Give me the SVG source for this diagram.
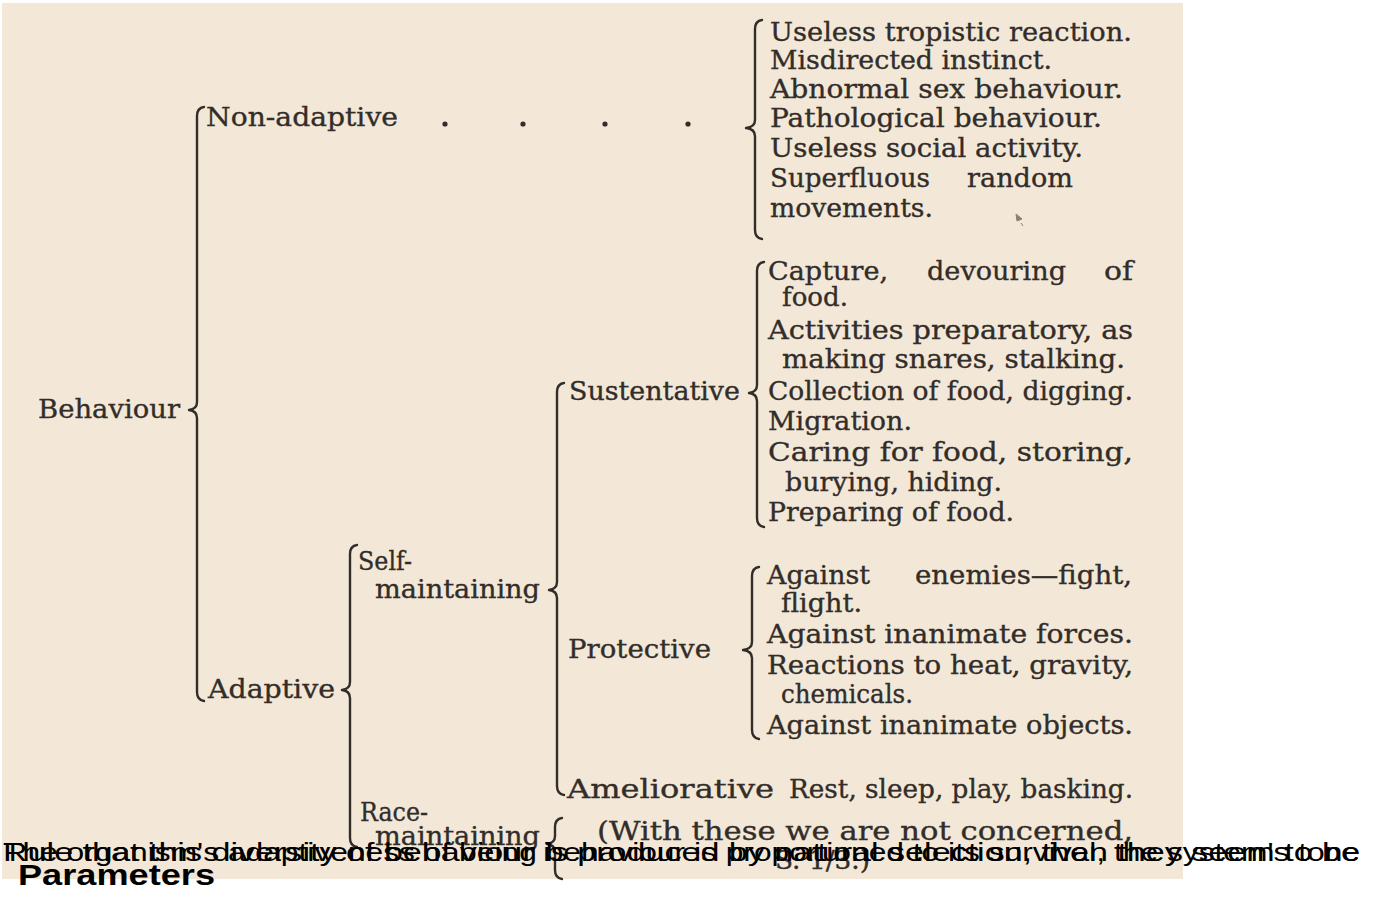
<svg xmlns="http://www.w3.org/2000/svg" width="1375" height="917" viewBox="0 0 1375 917">
<style>
.t{font-family:"DejaVu Serif","Liberation Serif",serif;font-size:26px;fill:#322d29;stroke:#322d29;stroke-width:0.35}
.br{fill:none;stroke:#322d29;stroke-width:2.4;stroke-linecap:round;stroke-linejoin:round}
.dot{fill:#322d29}
.cap{font-family:"Liberation Sans",Arial,sans-serif;font-size:25px;fill:#000}
.capb{font-family:"Liberation Sans",Arial,sans-serif;font-size:30px;font-weight:bold;fill:#000}
</style>
<rect x="0" y="0" width="1375" height="917" fill="#ffffff"/>
<rect x="2" y="3" width="1181" height="876" fill="#f3e8d8"/>

<g id="connectors">
  <path class="br" d="M204,107 Q197,108 197,116 L197,402 Q197,409 189,410 Q197,411 197,418 L197,692 Q197,700 204,701"/>
  <path class="br" d="M762,20 Q755,21 755,29 L755,120 Q755,127 746,128 Q755,129 755,136 L755,230 Q755,238 762,239"/>
  <path class="br" d="M357,545 Q350,546 350,554 L350,682 Q350,689 342,690 Q350,691 350,698 L350,838 Q350,846 357,847"/>
  <path class="br" d="M564,383 Q557,384 557,392 L557,582 Q557,589 549,590 Q557,591 557,598 L557,786 Q557,794 564,795"/>
  <path class="br" d="M764,262 Q757,263 757,271 L757,385 Q757,392 749,393 Q757,394 757,401 L757,518 Q757,526 764,527"/>
  <path class="br" d="M759,567 Q752,568 752,576 L752,642 Q752,649 743,650 Q752,651 752,658 L752,730 Q752,738 759,739"/>
  <path class="br" d="M562,818 Q555,819 555,827 L555,836 Q555,843 547,844 Q555,845 555,852 L555,870 Q555,878 562,879"/>
</g>

<g id="behaviour"><text class="t" x="38" y="418" textLength="142" lengthAdjust="spacingAndGlyphs">Behaviour</text></g>

<g id="non-adaptive">
  <text class="t" x="206" y="126" textLength="192" lengthAdjust="spacingAndGlyphs">Non-adaptive</text>
  <circle class="dot" cx="445" cy="124" r="2.6"/>
  <circle class="dot" cx="523" cy="124" r="2.6"/>
  <circle class="dot" cx="605" cy="124" r="2.6"/>
  <circle class="dot" cx="688" cy="124" r="2.6"/>
</g>

<g id="non-adaptive-list">
  <text class="t" x="770" y="41" textLength="362" lengthAdjust="spacingAndGlyphs">Useless tropistic reaction.</text>
  <text class="t" x="770" y="69" textLength="282" lengthAdjust="spacingAndGlyphs">Misdirected instinct.</text>
  <text class="t" x="770" y="98" textLength="353" lengthAdjust="spacingAndGlyphs">Abnormal sex behaviour.</text>
  <text class="t" x="770" y="127" textLength="332" lengthAdjust="spacingAndGlyphs">Pathological behaviour.</text>
  <text class="t" x="770" y="157" textLength="313" lengthAdjust="spacingAndGlyphs">Useless social activity.</text>
  <text class="t" x="770" y="187" textLength="160" lengthAdjust="spacingAndGlyphs">Superfluous</text>
  <text class="t" x="967" y="187" textLength="106" lengthAdjust="spacingAndGlyphs">random</text>
  <text class="t" x="770" y="217" textLength="163" lengthAdjust="spacingAndGlyphs">movements.</text>
  <path d="M1016,214 L1022,219 L1017,221 Z M1021,223 l2,3" fill="#8a7f74" stroke="#8a7f74" stroke-width="1"/>
</g>

<g id="adaptive"><text class="t" x="208" y="698" textLength="127" lengthAdjust="spacingAndGlyphs">Adaptive</text></g>

<g id="self-maintaining">
  <text class="t" x="358" y="570" textLength="54" lengthAdjust="spacingAndGlyphs">Self-</text>
  <text class="t" x="375" y="598" textLength="165" lengthAdjust="spacingAndGlyphs">maintaining</text>
</g>

<g id="sustentative"><text class="t" x="569" y="400" textLength="171" lengthAdjust="spacingAndGlyphs">Sustentative</text></g>

<g id="sustentative-list">
  <text class="t" x="768" y="280" textLength="120" lengthAdjust="spacingAndGlyphs">Capture,</text>
  <text class="t" x="927" y="280" textLength="139" lengthAdjust="spacingAndGlyphs">devouring</text>
  <text class="t" x="1104" y="280" textLength="29" lengthAdjust="spacingAndGlyphs">of</text>
  <text class="t" x="782" y="306" textLength="66" lengthAdjust="spacingAndGlyphs">food.</text>
  <text class="t" x="768" y="339" textLength="365" lengthAdjust="spacingAndGlyphs">Activities preparatory, as</text>
  <text class="t" x="782" y="368" textLength="343" lengthAdjust="spacingAndGlyphs">making snares, stalking.</text>
  <text class="t" x="768" y="400" textLength="365" lengthAdjust="spacingAndGlyphs">Collection of food, digging.</text>
  <text class="t" x="768" y="430" textLength="144" lengthAdjust="spacingAndGlyphs">Migration.</text>
  <text class="t" x="768" y="461" textLength="365" lengthAdjust="spacingAndGlyphs">Caring for food, storing,</text>
  <text class="t" x="785" y="491" textLength="217" lengthAdjust="spacingAndGlyphs">burying, hiding.</text>
  <text class="t" x="768" y="521" textLength="246" lengthAdjust="spacingAndGlyphs">Preparing of food.</text>
</g>

<g id="protective"><text class="t" x="568" y="658" textLength="143" lengthAdjust="spacingAndGlyphs">Protective</text></g>

<g id="protective-list">
  <text class="t" x="767" y="584" textLength="103" lengthAdjust="spacingAndGlyphs">Against</text>
  <text class="t" x="915" y="584" textLength="217" lengthAdjust="spacingAndGlyphs">enemies—fight,</text>
  <text class="t" x="781" y="612" textLength="81" lengthAdjust="spacingAndGlyphs">flight.</text>
  <text class="t" x="767" y="643" textLength="366" lengthAdjust="spacingAndGlyphs">Against inanimate forces.</text>
  <text class="t" x="767" y="674" textLength="366" lengthAdjust="spacingAndGlyphs">Reactions to heat, gravity,</text>
  <text class="t" x="781" y="703" textLength="132" lengthAdjust="spacingAndGlyphs">chemicals.</text>
  <text class="t" x="767" y="734" textLength="366" lengthAdjust="spacingAndGlyphs">Against inanimate objects.</text>
</g>

<g id="ameliorative">
  <text class="t" x="567" y="798" textLength="207" lengthAdjust="spacingAndGlyphs">Ameliorative</text>
  <text class="t" x="789" y="798" textLength="344" lengthAdjust="spacingAndGlyphs">Rest, sleep, play, basking.</text>
</g>

<g id="race-maintaining">
  <text class="t" x="360" y="821" textLength="68" lengthAdjust="spacingAndGlyphs">Race-</text>
  <text class="t" x="375" y="845" textLength="165" lengthAdjust="spacingAndGlyphs">maintaining</text>
  <text class="t" x="597" y="840" textLength="536" lengthAdjust="spacingAndGlyphs">(With these we are not concerned,</text>
  <text class="t" x="775" y="869" textLength="95" lengthAdjust="spacingAndGlyphs">S. 1/3.)</text>
</g>

<g id="caption">
  <text class="cap" x="3" y="861" textLength="1357" lengthAdjust="spacingAndGlyphs">Rule that this diversity of behaviour is produced by natural selection, then they seem to be</text>
  <text class="cap" x="3" y="861" textLength="1357" lengthAdjust="spacingAndGlyphs">The organism's adaptiveness of being behaviour is proportioned to its survival, the system's tone</text>
  <text class="capb" x="18" y="885" textLength="197" lengthAdjust="spacingAndGlyphs">Parameters</text>
</g>
</svg>
